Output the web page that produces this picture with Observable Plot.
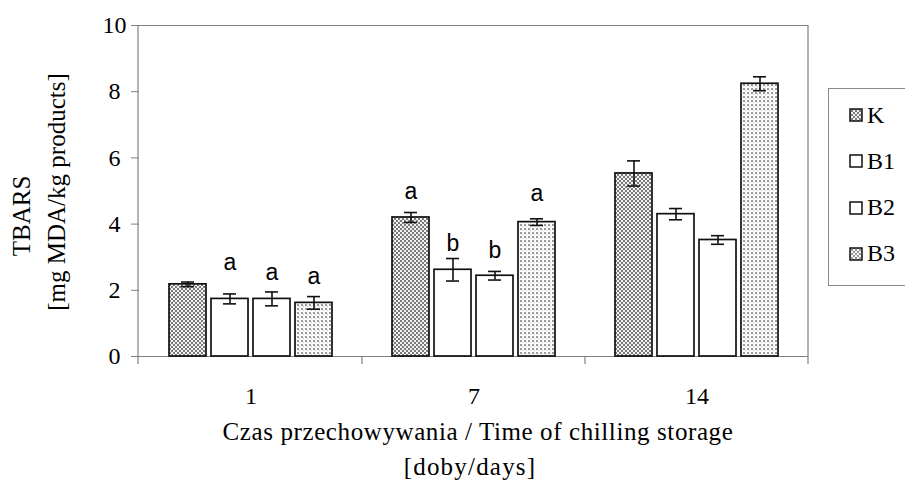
<!DOCTYPE html>
<html>
<head>
<meta charset="utf-8">
<script src="https://cdn.jsdelivr.net/npm/d3@7"></script>
<script src="https://cdn.jsdelivr.net/npm/@observablehq/plot@0.6"></script>
<style>
  html, body { margin: 0; padding: 0; background: #fff; }
  #wrap { position: relative; width: 905px; height: 480px; overflow: hidden; background: #fff; }
  #legend { position: absolute; left: 828px; top: 88px; width: 110px; height: 198px;
            border: 1.5px solid #8a8a8a; box-sizing: border-box; font-family: "Liberation Serif", serif; font-size: 24px; }
  .item { position: absolute; left: 20px; display: flex; align-items: center; height: 30px; }
  .item svg { margin-right: 4px; }
</style>
</head>
<body>
<div id="wrap"></div>
<script>
// ---- data ----
const days = ["1", "7", "14"];
const treatments = ["K", "B1", "B2", "B3"];
const meanK  = [2.18, 4.20, 5.53];
const meanB1 = [1.74, 2.62, 4.30];
const meanB2 = [1.74, 2.44, 3.52];
const meanB3 = [1.62, 4.06, 8.24];
const sdK  = [0.07, 0.15, 0.38];
const sdB1 = [0.15, 0.34, 0.17];
const sdB2 = [0.21, 0.13, 0.13];
const sdB3 = [0.19, 0.10, 0.21];
const letterK  = ["", "a", ""];
const letterB1 = ["a", "b", ""];
const letterB2 = ["a", "b", ""];
const letterB3 = ["a", "a", ""];
const letterYK  = [0, 4.97, 0];
const letterYB1 = [2.85, 3.40, 0];
const letterYB2 = [2.54, 3.20, 0];
const letterYB3 = [2.42, 4.91, 0];
const yTicks = [0, 2, 4, 6, 8, 10];
const yTitle = ["TBARS", "[mg MDA/kg products]"];
const xTitle = ["Czas przechowywania / Time of chilling storage", "[doby/days]"];

const means = {K: meanK, B1: meanB1, B2: meanB2, B3: meanB3};
const sds = {K: sdK, B1: sdB1, B2: sdB2, B3: sdB3};
const letters = {K: letterK, B1: letterB1, B2: letterB2, B3: letterB3};
const letterYs = {K: letterYK, B1: letterYB1, B2: letterYB2, B3: letterYB3};

const data = [];
days.forEach((d, i) => treatments.forEach(t => data.push({
  day: d, treatment: t, mean: means[t][i], sd: sds[t][i], letter: letters[t][i], ly: letterYs[t][i]
})));
const fills = {K: "url(#pK)", B1: "white", B2: "white", B3: "url(#pB3)"};

const serif = "Liberation Serif, Times New Roman, serif";
const sans = "Liberation Sans, Arial, sans-serif";

const plot = Plot.plot({
  width: 905,
  height: 480,
  marginLeft: 138,
  marginRight: 97,
  marginTop: 25,
  marginBottom: 124,
  style: {background: "white", color: "black"},
  fx: {domain: days, padding: 0, label: null},
  x: {domain: treatments, paddingInner: 0.125, paddingOuter: 0.67, axis: null},
  y: {domain: [0, 10]},
  color: {domain: treatments, range: treatments.map(t => fills[t])},
  marks: [
    Plot.ruleY([0, 10], {stroke: "#808080", strokeWidth: 1.2}),
    Plot.barY(data, {fx: "day", x: "treatment", y: "mean", fill: "treatment", stroke: "#111", strokeWidth: 1.7}),
    Plot.ruleX(data, {fx: "day", x: "treatment", y1: d => d.mean - d.sd, y2: d => d.mean + d.sd, stroke: "#111", strokeWidth: 1.6}),
    Plot.tickY(data, {fx: "day", x: "treatment", y: d => d.mean - d.sd, insetLeft: 12, insetRight: 12, stroke: "#111", strokeWidth: 1.6}),
    Plot.tickY(data, {fx: "day", x: "treatment", y: d => d.mean + d.sd, insetLeft: 12, insetRight: 12, stroke: "#111", strokeWidth: 1.6}),
    Plot.text(data.filter(d => d.letter), {fx: "day", x: "treatment", y: "ly", text: "letter", fontFamily: sans, fontSize: 23, fill: "black"}),
    Plot.axisY({ticks: yTicks, tickSize: 8, tickPadding: 17, textAnchor: "middle", fontSize: 24, fontFamily: serif,
                stroke: "#808080", fill: "black", label: null}),
    Plot.axisFx({anchor: "bottom", tickSize: 0, tickPadding: 30, fontSize: 24, fontFamily: serif, fill: "black", label: null})
  ]
});

const svg = d3.select(plot);
svg.insert("defs", ":first-child").html(`
  <pattern id="pK" width="4" height="4" patternUnits="userSpaceOnUse">
    <rect width="4" height="4" fill="#f4f4f4"/>
    <rect width="2" height="2" fill="#7a7a7a"/>
    <rect x="2" y="2" width="2" height="2" fill="#7a7a7a"/>
  </pattern>
  <pattern id="pB3" width="4" height="4" patternUnits="userSpaceOnUse">
    <rect width="4" height="4" fill="#fbfbfb"/>
    <rect width="2" height="2" fill="#9a9a9a"/>
    <rect x="2" y="2" width="1" height="1" fill="#c8c8c8"/>
  </pattern>`);

// frame & group separator ticks from the library's scales
const fx = plot.scale("fx"), y = plot.scale("y");
const x0 = fx.range[0], x1 = fx.range[1];
const y0 = y.apply(0), y10 = y.apply(10);
const g = svg.append("g").attr("stroke", "#808080").attr("stroke-width", 1.2);
g.append("line").attr("x1", x0).attr("x2", x0).attr("y1", y10).attr("y2", y0 + 8);
g.append("line").attr("x1", x1).attr("x2", x1).attr("y1", y10).attr("y2", y0 + 8);
days.slice(1).forEach(d => {
  const xs = fx.apply(d);
  g.append("line").attr("x1", xs).attr("x2", xs).attr("y1", y0).attr("y2", y0 + 8);
});

// axis titles
const tx = svg.append("g").attr("font-family", serif).attr("font-size", 25).attr("fill", "black").attr("text-anchor", "middle");
tx.append("text").attr("x", 478).attr("y", 440).attr("letter-spacing", 0.6).text(xTitle[0]);
tx.append("text").attr("x", 470).attr("y", 475).attr("letter-spacing", 1.2).text(xTitle[1]);
tx.append("text").attr("transform", "translate(30,216) rotate(-90)").text(yTitle[0]);
tx.append("text").attr("transform", "translate(65,192) rotate(-90)").text(yTitle[1]);

const wrap = document.getElementById("wrap");
wrap.appendChild(plot);

// legend
const legend = document.createElement("div");
legend.id = "legend";
const swatchFill = {K: ["#7a7a7a", "#f4f4f4"], B1: null, B2: null, B3: ["#9a9a9a", "#fbfbfb"]};
treatments.forEach((t, i) => {
  const item = document.createElement("div");
  item.className = "item";
  item.style.top = (11 + i * 46.3) + "px";
  const p = swatchFill[t];
  const pat = p ? `<defs><pattern id="ls${t}" width="4" height="4" patternUnits="userSpaceOnUse"><rect width="4" height="4" fill="${p[1]}"/><rect width="2" height="2" fill="${p[0]}"/><rect x="2" y="2" width="2" height="2" fill="${p[0]}"/></pattern></defs>` : "";
  item.innerHTML = `<svg width="14" height="14">${pat}<rect x="1" y="1" width="12" height="12" fill="${p ? `url(#ls${t})` : "white"}" stroke="#111" stroke-width="1.5"/></svg><span>${t}</span>`;
  legend.appendChild(item);
});
wrap.appendChild(legend);
</script>
</body>
</html>
